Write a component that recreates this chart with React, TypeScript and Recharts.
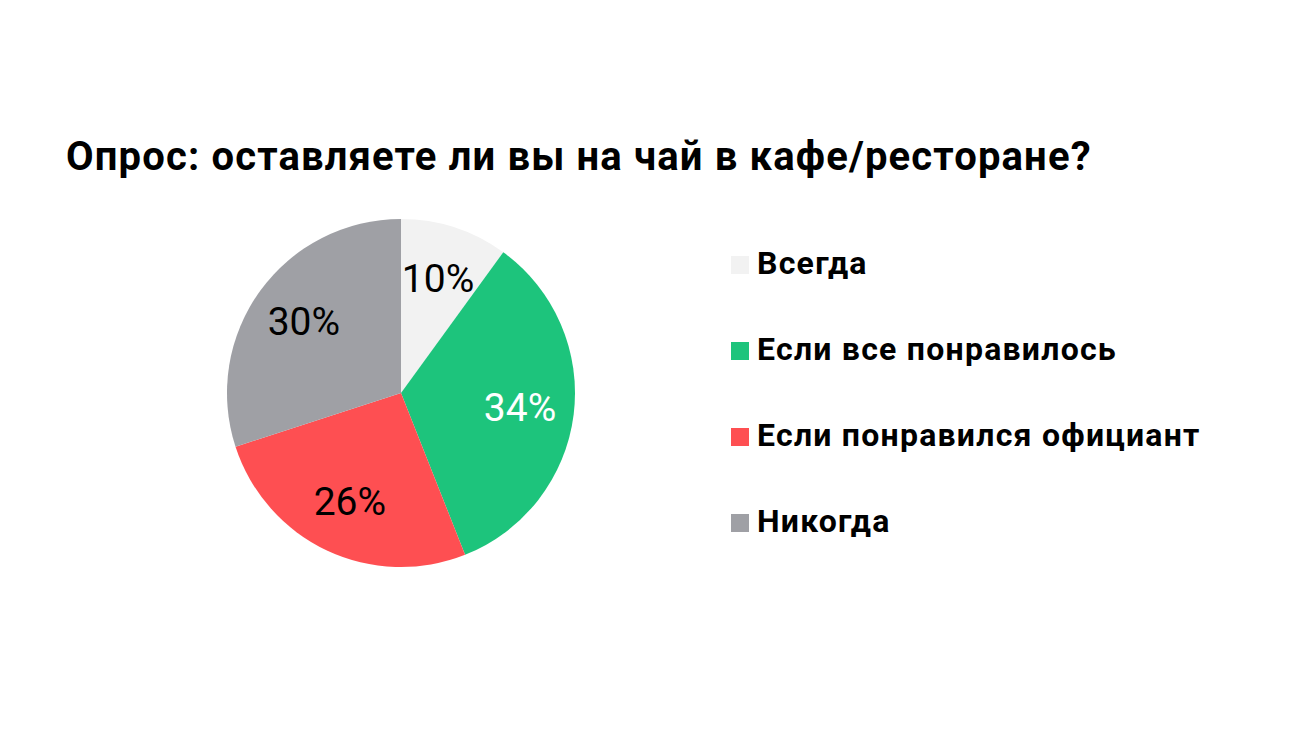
import { PieChart, Pie, Cell, Legend } from 'recharts';

const categories = ['Всегда', 'Если все понравилось', 'Если понравился официант', 'Никогда'];
const shares = [10, 34, 26, 30];
const colors = ['#f2f2f2', '#1dc47c', '#fe4f52', '#9fa0a5'];
const labelColors = ['#000000', '#ffffff', '#000000', '#000000'];

const data = categories.map((name, i) => ({ name, value: shares[i] }));

const RAD = Math.PI / 180;

function renderLabel(props: any) {
  const { cx, cy, midAngle, index, value } = props;
  const r = 120;
  const x = cx + r * Math.cos(-midAngle * RAD);
  const y = cy + r * Math.sin(-midAngle * RAD);
  return (
    <text
      x={x}
      y={y}
      fill={labelColors[index]}
      textAnchor="middle"
      dominantBaseline="central"
      style={{ fontFamily: 'Roboto', fontSize: 39 }}
    >
      {value}%
    </text>
  );
}

function LegendList() {
  return (
    <div
      style={{
        fontFamily: 'Roboto',
        fontWeight: 700,
        fontSize: 32,
        letterSpacing: 1.25,
        color: '#000',
      }}
    >
      {categories.map((c, i) => (
        <div
          key={c}
          style={{ display: 'flex', alignItems: 'center', height: 86 }}
        >
          <span
            style={{
              width: 18,
              height: 18,
              background: colors[i],
              marginRight: 8,
              marginTop: 4,
            }}
          />
          <span>{c}</span>
        </div>
      ))}
    </div>
  );
}

export default function App() {
  return (
    <div
      style={{
        position: 'absolute',
        left: 0,
        top: 0,
        width: 1300,
        height: 731,
        background: '#fff',
        fontFamily: 'Roboto',
      }}
    >
      <div
        style={{
          position: 'absolute',
          left: 66,
          top: 133,
          fontSize: 40,
          fontWeight: 700,
          letterSpacing: 1.15,
          color: '#000',
          whiteSpace: 'nowrap',
        }}
      >
        Опрос: оставляете ли вы на чай в кафе/ресторане?
      </div>
      <PieChart width={1300} height={731} margin={{ top: 0, right: 0, bottom: 0, left: 0 }}>
        <Pie
          data={data}
          dataKey="value"
          nameKey="name"
          cx={401}
          cy={393}
          outerRadius={174}
          startAngle={90}
          endAngle={-270}
          stroke="none"
          labelLine={false}
          label={renderLabel}
          isAnimationActive={false}
        >
          {data.map((d, i) => (
            <Cell key={d.name} fill={colors[i]} />
          ))}
        </Pie>
        <Legend
          content={() => <LegendList />}
          wrapperStyle={{ position: 'absolute', left: 731, top: 220, width: 560 }}
        />
      </PieChart>
    </div>
  );
}
